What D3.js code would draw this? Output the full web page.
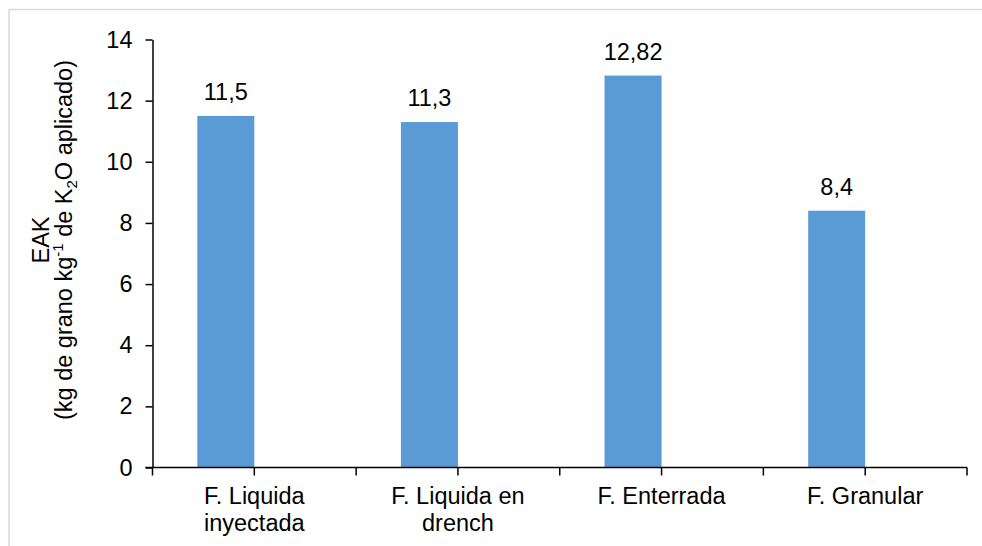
<!DOCTYPE html>
<html>
<head>
<meta charset="utf-8">
<script src="https://cdn.jsdelivr.net/npm/d3@7"></script>
<style>
  body { margin: 0; background: #fff; }
  text { font-family: "Liberation Sans", Arial, sans-serif; fill: #000; }
</style>
</head>
<body>
<div id="chart"></div>
<script>
const categories = [["F. Liquida", "inyectada"], ["F. Liquida en", "drench"], ["F. Enterrada"], ["F. Granular"]];
const values = [11.5, 11.3, 12.82, 8.4];
const valueLabels = ["11,5", "11,3", "12,82", "8,4"];
const yTicks = [0, 2, 4, 6, 8, 10, 12, 14];

const width = 982, height = 546;
const x0 = 152.5, x1 = 967, yTop = 39.5, yBottom = 467.5;

const svg = d3.select("#chart")
    .append("svg")
    .attr("width", width)
    .attr("height", height);

// light frame round the chart area
svg.append("rect")
    .attr("x", 9).attr("y", 9.5)
    .attr("width", width).attr("height", height)
    .attr("fill", "none")
    .attr("stroke", "#d9d9d9")
    .attr("stroke-width", 1.5);

const xScale = d3.scaleBand()
    .domain(d3.range(categories.length))
    .range([x0, x1])
    .padding(0);

const yScale = d3.scaleLinear()
    .domain([0, 14])
    .range([yBottom, yTop]);

const barW = xScale.bandwidth() * 0.28;

svg.selectAll("rect.bar")
    .data(values)
    .enter().append("rect")
    .attr("class", "bar")
    .attr("x", (d, i) => xScale(i) + xScale.bandwidth() / 2 - barW)
    .attr("y", d => yScale(d))
    .attr("width", barW)
    .attr("height", d => yScale(0) - yScale(d))
    .attr("fill", "#5b9bd5");

svg.selectAll("text.val")
    .data(values)
    .enter().append("text")
    .attr("class", "val")
    .attr("x", (d, i) => xScale(i) + xScale.bandwidth() / 2 - barW / 2)
    .attr("y", d => yScale(d) - 16)
    .attr("text-anchor", "middle")
    .attr("font-size", "23.5px")
    .text((d, i) => valueLabels[i]);

// y axis
const yAxis = svg.append("g")
    .attr("transform", `translate(${x0}, 0)`)
    .call(d3.axisLeft(yScale).tickValues(yTicks).tickSize(7).tickPadding(13).tickSizeOuter(0));
yAxis.selectAll("text").attr("font-size", "23.5px").attr("font-family", "Liberation Sans, Arial, sans-serif").attr("fill", "#000");
yAxis.selectAll("line, path").attr("stroke", "#000").attr("stroke-width", 1.5);

// x axis: ticks at band edges and band centres
const edgeTicks = d3.range(categories.length * 2 + 1).map(k => x0 + k * xScale.bandwidth() / 2);
const xAxis = svg.append("g");
xAxis.append("line")
    .attr("x1", x0 - 7).attr("x2", x1)
    .attr("y1", yBottom).attr("y2", yBottom)
    .attr("stroke", "#000").attr("stroke-width", 1.5);
xAxis.selectAll("line.tick")
    .data(edgeTicks)
    .enter().append("line")
    .attr("class", "tick")
    .attr("x1", d => d).attr("x2", d => d)
    .attr("y1", yBottom).attr("y2", yBottom + 8)
    .attr("stroke", "#000").attr("stroke-width", 1.5);

const xLabels = xAxis.selectAll("text.cat")
    .data(categories)
    .enter().append("text")
    .attr("class", "cat")
    .attr("text-anchor", "middle")
    .attr("font-size", "23.5px");
xLabels.selectAll("tspan")
    .data((d, i) => d.map(line => ({ line, i })))
    .enter().append("tspan")
    .attr("x", d => xScale(d.i) + xScale.bandwidth() / 2)
    .attr("y", (d, j) => 504 + j * 27)
    .text(d => d.line);

// y axis title
const title = svg.append("g")
    .attr("transform", "translate(0, 240) rotate(-90)");
title.append("text")
    .attr("x", 0).attr("y", 49)
    .attr("text-anchor", "middle")
    .attr("font-size", "23.5px")
    .text("EAK");
const t2 = title.append("text")
    .attr("x", 0).attr("y", 72)
    .attr("text-anchor", "middle")
    .attr("font-size", "23.5px");
t2.append("tspan").text("(kg de grano kg");
t2.append("tspan").attr("dy", -9).attr("font-size", "15px").text("-1");
t2.append("tspan").attr("dy", 9).text(" de K");
t2.append("tspan").attr("dy", 5).attr("font-size", "15px").text("2");
t2.append("tspan").attr("dy", -5).text("O aplicado)");
</script>
</body>
</html>
